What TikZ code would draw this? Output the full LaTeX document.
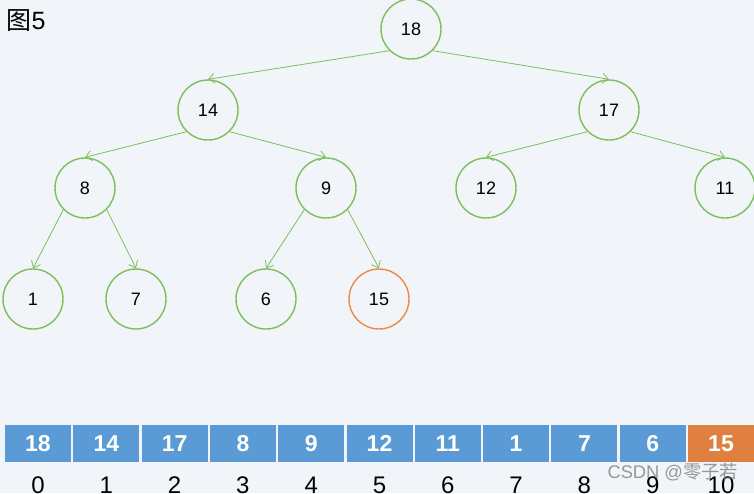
\documentclass[tikz,border=0pt]{standalone}
\usepackage{fontspec}
\setmainfont{Liberation Sans}
\newfontfamily\cjk{Noto Sans CJK SC}
\usetikzlibrary{arrows.meta}
\definecolor{bgc}{RGB}{241,245,250}
\definecolor{leafgreen}{RGB}{125,190,90}
\definecolor{heapblue}{RGB}{91,155,213}
\definecolor{heaporange}{RGB}{224,128,64}
\definecolor{ringorange}{RGB}{240,136,64}

\begin{document}
\begin{tikzpicture}[x=1pt, y=-1pt, >={Straight Barb[length=6pt, width=10pt]},
  nd/.style={draw=leafgreen, line width=1.4pt, circle, minimum size=60pt, inner sep=0pt,
    font=\fontsize{18}{18}\selectfont},
  hot/.style={nd, draw=ringorange},
  edge/.style={->, draw=leafgreen, line width=0.8pt},
  cell/.style={fill=heapblue, minimum width=66pt, minimum height=37pt, inner sep=0pt,
    text=white, font=\fontsize{23}{23}\selectfont\bfseries},
  idx/.style={font=\fontsize{24}{24}\selectfont}]
  \fill[bgc] (0,0) rectangle (754,493);
  \useasboundingbox (0,0) rectangle (754,493);
  \clip (0,0) rectangle (754,493);
  \node[anchor=west, font=\fontsize{25}{25}\selectfont] (title) at (3,21) {\cjk 图\rmfamily 5};
  % tree
  \node[nd] (n18) at (411,29) {18};
  \node[nd] (n14) at (208,110) {14};
  \node[nd] (n17) at (609,110) {17};
  \node[nd] (n8) at (85,188) {8};
  \node[nd] (n9) at (326,188) {9};
  \node[nd] (n12) at (486,188) {12};
  \node[nd] (n11) at (725,188) {11};
  \node[nd] (n1) at (33,299) {1};
  \node[nd] (n7) at (136,299) {7};
  \node[nd] (n6) at (266,299) {6};
  \node[hot] (n15) at (379,299) {15};
  \draw[edge] (n18.south west) -- (n14.north);
  \draw[edge] (n18.south east) -- (n17.north);
  \draw[edge] (n14.south west) -- (n8.north);
  \draw[edge] (n14.south east) -- (n9.north);
  \draw[edge] (n17.south west) -- (n12.north);
  \draw[edge] (n17.south east) -- (n11.north);
  \draw[edge] (n8.south west) -- (n1.north);
  \draw[edge] (n8.south east) -- (n7.north);
  \draw[edge] (n9.south west) -- (n6.north);
  \draw[edge] (n9.south east) -- (n15.north);
  % array
  \foreach \v [count=\i from 0] in {18,14,17,8,9,12,11,1,7,6} {
    \node[cell] (a\i) at (38+68.3*\i,443.5) {\v};
    \node[idx] (i\i) at (38+68.3*\i,485) {\i};
  }
  \node[cell, fill=heaporange] (a10) at (721,443.5) {15};
  \node[idx] (i10) at (721,485) {10};
  \node[anchor=west, text=gray, opacity=0.8, font=\fontsize{18.3}{18.3}\selectfont] (mark) at (604,472)
    {CSDN @{\cjk 零子若}};
\end{tikzpicture}
\end{document}
